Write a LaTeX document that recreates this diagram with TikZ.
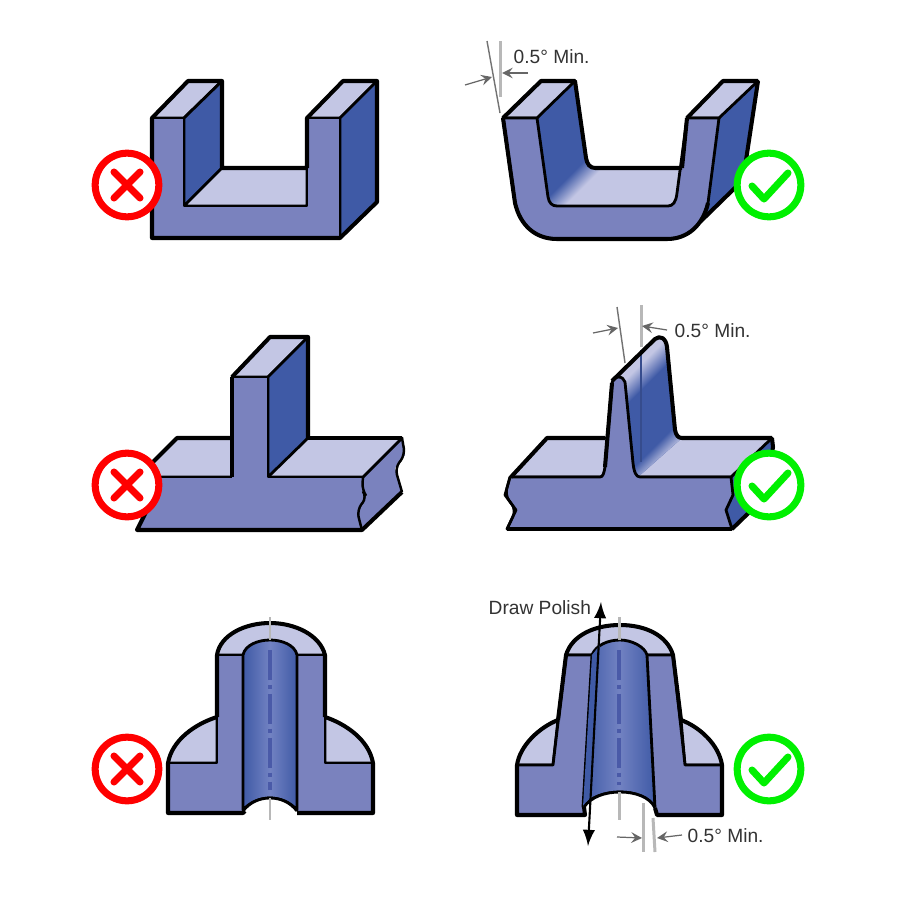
\documentclass[tikz,border=0pt]{standalone}
\usepackage{fontspec}
\setmainfont{Liberation Sans}
\usetikzlibrary{arrows}
\definecolor{blockmid}{HTML}{7A82BE}
\definecolor{blockdark}{HTML}{3F5AA6}
\definecolor{blocklight}{HTML}{C3C6E4}
\definecolor{boreglow}{HTML}{7282C2}
\definecolor{boredash}{HTML}{4A5AA8}
\definecolor{dimgray}{HTML}{B8B8B8}
\definecolor{dimtext}{HTML}{333333}
\definecolor{badred}{HTML}{FF0000}
\definecolor{goodgreen}{HTML}{00F000}
\begin{document}
\begin{tikzpicture}[
x=0.01cm,y=-0.01cm,
font=\fontsize{5.45}{6.5}\selectfont,
outerline/.style={line width=1.15pt,line join=round},
innerline/.style={line width=0.8pt,line join=round},
breakline/.style={line width=0.7pt,rounded corners=2pt},
frontface/.style={fill=blockmid,innerline},
topface/.style={fill=blocklight,innerline},
wallface/.style={fill=blockdark,innerline},
boreface/.style={left color=blockdark,right color=blockdark,middle color=boreglow,innerline},
dimline/.style={dimgray,line width=0.85pt},
dimthin/.style={black!55,line width=0.4pt},
dimarrow/.style={->,>=stealth,black!60,line width=0.35pt},
dimlabel/.style={text=dimtext,inner sep=0pt},
axisline/.style={dimgray,line width=0.85pt},
axisdash/.style={boredash,line width=1pt,dash pattern=on 8.5pt off 1.4pt on 1.2pt off 1.4pt},
polish/.style={<->,>=latex,line width=0.6pt},
ring/.style={circle,draw=#1,line width=2pt,minimum size=18.1pt,inner sep=0pt},
signline/.style={line width=2pt,line cap=round,line join=round}
]
\fill[white] (0,0) rectangle (900,900);
\useasboundingbox (0,0) rectangle (900,900);

% square channel
\filldraw[topface] (152,118) -- (188,81) -- (222,81) -- (184,118) -- cycle;
\filldraw[topface] (307,118) -- (343,81) -- (377,81) -- (340,118) -- cycle;
\filldraw[wallface] (184,118) -- (222,81) -- (222,168) -- (184,206) -- cycle;
\filldraw[topface] (184,206) -- (222,168) -- (307,168) -- (307,206) -- cycle;
\filldraw[wallface] (340,118) -- (377,81) -- (377,202) -- (340,238) -- cycle;
\filldraw[frontface] (152,118) -- (184,118) -- (184,206) -- (307,206) -- (307,118) -- (340,118) -- (340,238) -- (152,238) -- cycle;
\draw[outerline] (307,168) -- (222,168) -- (222,81) -- (188,81) -- (152,118) -- (152,238) -- (340,238) -- (377,202) -- (377,81) -- (343,81) -- (307,118) -- (307,168);

% drafted channel
\fill[blockdark] (719,118) -- (758,81) -- (743,180) -- (700,222) -- cycle;
\draw[outerline] (758,81) -- (743,180) -- (700,222);
\fill[blocklight] (537,118) -- (575,81) -- (586,158) .. controls (587,164) and (590,168) .. (595,168) -- (682,168) -- (677,193) .. controls (676,202) and (673,206) .. (668,206) -- (557,206) .. controls (552,206) and (549,203) .. (548,197) -- cycle;
\begin{scope}
\clip (537,118) -- (575,81) -- (586,158) .. controls (587,164) and (590,168) .. (595,168) -- (682,168) -- (677,193) .. controls (676,202) and (673,206) .. (668,206) -- (557,206) .. controls (552,206) and (549,203) .. (548,197) -- cycle;
\begin{scope}[transform canvas={rotate around={-45:(572,184)}}]
\fill[blockdark] (400,0) rectangle (565,350);
\shade[left color=blockdark,right color=blocklight] (564,0) rectangle (582,350);
\end{scope}
\end{scope}
\filldraw[topface] (503,118) -- (541,81) -- (575,81) -- (537,118) -- cycle;
\filldraw[topface] (687,118) -- (723,81) -- (758,81) -- (719,118) -- cycle;
\filldraw[frontface] (503,118) -- (537,118) -- (548,197) .. controls (549,203) and (552,206) .. (557,206) -- (668,206) .. controls (673,206) and (676,202) .. (677,193) -- (687,118) -- (719,118) -- (708,203) .. controls (703,225) and (688,239) .. (667,239) -- (557,239) .. controls (535,239) and (520,225) .. (515,203) -- cycle;
\draw[outerline] (503,118) -- (541,81) -- (575,81) -- (586,158) .. controls (587,164) and (590,168) .. (595,168) -- (682,168);
\draw[outerline] (503,118) -- (515,203) .. controls (520,225) and (535,239) .. (557,239) -- (667,239) .. controls (688,239) and (703,225) .. (708,203);
\draw[outerline] (687,118) -- (723,81) -- (758,81);
\draw[outerline] (687,118) -- (682,168);
\draw[dimthin] (487,41) -- (500,113);
\draw[dimline] (500,41) -- (500,97);
\draw[dimarrow] (465,85) -- (492,77);
\draw[dimarrow] (528,73) -- (502,73);
\node[dimlabel,anchor=west] (draftone) at (513,57) {0.5° Min.};

% square rib
\fill[blockmid] (345,477) -- (363,477) -- (402,438) -- (405,455) -- (395,468) -- (402,492) -- (362,530) -- (345,530) -- cycle;
\filldraw[topface] (138,477) -- (177,438) -- (402,438) -- (363,477) -- cycle;
\filldraw[topface] (232,377) -- (270,337) -- (308,337) -- (268,377) -- cycle;
\filldraw[wallface] (268,377) -- (308,337) -- (308,438) -- (268,477) -- cycle;
\fill[blockmid] (232,377) -- (268,377) -- (268,477) -- (363,477) -- (362,490) -- (367,497) -- (357,510) -- (360,523) -- (362,530) -- (137,530) -- (158,488) -- (150,477) -- (232,477) -- cycle;
\draw[innerline] (268,377) -- (268,477) -- (363,477);
\draw[innerline] (232,377) -- (268,377) (232,477) -- (150,477);
\draw[breakline] (363,477) -- (362,490) -- (367,497) -- (357,510) -- (360,523) -- (362,530);
\draw[outerline] (232,377) -- (270,337) -- (308,337) -- (308,438);
\draw[outerline] (232,438) -- (177,438) -- (138,477);
\draw[outerline] (232,377) -- (232,477);
\draw[outerline] (308,438) -- (402,438);
\draw[breakline] (402,438) -- (405,455) -- (395,468) -- (402,492);
\draw[outerline] (402,492) -- (362,530) -- (137,530) -- (158,488);

% drafted rib
\fill[blockdark] (768,441) -- (772,438) -- (773,447) -- (765,497) -- (732,529) -- (726,510) -- (731,477) -- cycle;
\draw[outerline] (772,438) -- (773,447) -- (765,497) -- (732,529);
\filldraw[topface] (511,477) -- (547,438) -- (772,438) -- (731,477) -- cycle;
\fill[blockdark] (612,383) -- (618,377) -- (655,338) .. controls (660,335) and (666,338) .. (667,347) -- (675,430) .. controls (676,435) and (678,438) .. (682,438) -- (638,477) -- (633,463) -- cycle;
\begin{scope}
\clip (612,383) -- (618,377) -- (655,338) .. controls (660,335) and (666,338) .. (667,347) -- (675,430) .. controls (676,435) and (678,438) .. (682,438) -- (638,477) -- (633,463) -- cycle;
\begin{scope}[transform canvas={rotate around={-45:(644,359)}}]
\fill[blocklight] (500,200) rectangle (646,500);
\shade[left color=blocklight,right color=blockdark] (645,200) rectangle (664,500);
\end{scope}
\begin{scope}[transform canvas={rotate around={-45:(659,457)}}]
\fill[blocklight] (663,300) rectangle (800,600);
\shade[left color=blockdark,right color=blocklight] (648,300) rectangle (664,600);
\end{scope}
\end{scope}
\draw[blockdark!85!black,line width=0.3pt] (641,350) -- (641,462);
\filldraw[frontface] (510,477) -- (600,477) .. controls (603,477) and (604,473) .. (605,467) -- (612,383) .. controls (613,378) and (616,377) .. (618,377) .. controls (622,377) and (624,379) .. (625,382) -- (633,463) .. controls (634,472) and (636,477) .. (640,477) -- (731,477) -- (733,495) -- (726,510) -- (732,529) -- (507,529) -- (516,510) -- (505,495) -- cycle;
\draw[outerline] (511,477) -- (547,438) -- (605,438);
\draw[outerline] (612,383) -- (605,467);
\draw[outerline] (612,381) -- (655,339) .. controls (660,335) and (666,338) .. (667,347) -- (675,430) .. controls (676,435) and (678,438) .. (682,438) -- (772,438);
\draw[breakline] (510,477) -- (505,495) -- (516,510) -- (507,529);
\draw[outerline] (507,529) -- (732,529);
\draw[dimthin] (617,307) -- (625,363);
\draw[dimline] (641,305) -- (641,347);
\draw[dimarrow] (593,333) -- (618,328);
\draw[dimarrow] (667,330) -- (642,326);
\node[dimlabel,anchor=west] (drafttwo) at (674,331) {0.5° Min.};

% straight boss
\filldraw[topface] (217,655) .. controls (220,635) and (245,623) .. (270,623) .. controls (295,623) and (320,635) .. (325,655) -- cycle;
\filldraw[topface] (168,763) .. controls (172,740) and (195,724) .. (217,717) -- (217,763) -- cycle;
\filldraw[topface] (373,763) .. controls (369,740) and (346,724) .. (325,717) -- (325,763) -- cycle;
\filldraw[frontface] (168,763) -- (217,763) -- (217,655) -- (325,655) -- (325,763) -- (373,763) -- (373,813) -- (168,813) -- cycle;
\draw[boreface] (243,810) .. controls (250,802) and (260,798) .. (270,798) .. controls (280,798) and (290,802) .. (297,810) -- (297,655) .. controls (295,645) and (282,640) .. (270,640) .. controls (258,640) and (245,645) .. (243,655) -- cycle;
\fill[white] (243,811) .. controls (250,802) and (260,798) .. (270,798) .. controls (280,798) and (290,802) .. (297,811) -- (297,815) -- (243,815) -- cycle;
\draw[innerline] (243,811) .. controls (250,802) and (260,798) .. (270,798) .. controls (280,798) and (290,802) .. (297,811);
\draw[outerline] (217,717) -- (217,655) .. controls (220,635) and (245,623) .. (270,623) .. controls (295,623) and (320,635) .. (325,655) -- (325,717);
\draw[outerline] (217,717) .. controls (195,724) and (172,740) .. (168,763) -- (168,813) -- (243,813) -- (245,811);
\draw[outerline] (325,717) .. controls (346,724) and (369,740) .. (373,763) -- (373,813) -- (297,813);
\draw[axisline] (270,617) -- (270,640);
\draw[axisline] (270,798) -- (270,820);
\draw[axisdash] (270,650) -- (270,790);

% drafted boss
\filldraw[topface] (566,655) .. controls (572,635) and (595,625) .. (620,625) .. controls (645,625) and (667,635) .. (673,655) -- cycle;
\filldraw[topface] (517,765) .. controls (520,745) and (540,727) .. (558,720) -- (553,765) -- cycle;
\filldraw[topface] (722,765) .. controls (719,745) and (700,727) .. (681,720) -- (685,765) -- cycle;
\filldraw[frontface] (517,765) -- (553,765) -- (566,655) -- (673,655) -- (685,765) -- (722,765) -- (722,815) -- (517,815) -- cycle;
\draw[boreface] (583,807) .. controls (590,797) and (605,792) .. (620,792) .. controls (635,792) and (650,797) .. (655,808) -- (647,655) .. controls (645,647) and (632,640) .. (620,640) .. controls (608,640) and (596,645) .. (592,655) -- cycle;
\fill[blockdark] (592,655) -- (600,645) -- (590,798) -- (583,807) -- cycle;
\fill[white] (585,817) -- (585,806) .. controls (591,797) and (605,792) .. (620,792) .. controls (635,792) and (650,797) .. (656,808) -- (657,817) -- cycle;
\draw[innerline] (584,807) .. controls (591,797) and (605,792) .. (620,792) .. controls (635,792) and (650,797) .. (655,808);
\draw[outerline] (558,720) -- (566,655) .. controls (572,635) and (595,625) .. (620,625) .. controls (645,625) and (667,635) .. (673,655) -- (681,720);
\draw[outerline] (558,720) .. controls (540,727) and (520,745) .. (517,765) -- (517,815) -- (585,815) -- (584,807);
\draw[outerline] (681,720) .. controls (700,727) and (719,745) .. (722,765) -- (722,815) -- (657,815) -- (655,808);
\draw[axisline] (619,617) -- (619,640);
\draw[axisline] (619,792) -- (619,820);
\draw[axisdash] (619,650) -- (619,785);
\draw[polish] (601,602) -- (588,846);
\draw[dimline] (643,803) -- (643,852);
\draw[dimline] (653,818) -- (655,852);
\draw[dimarrow] (617,837) -- (642,838);
\draw[dimarrow] (682,835) -- (657,838);
\node[dimlabel,anchor=west] (polishlabel) at (488,608) {Draw Polish};
\node[dimlabel,anchor=west] (draftthree) at (687,836) {0.5° Min.};

% badges
\foreach \rowname/\rowy in {one/185,two/485,three/769}{
\node[ring=badred,fill=white] (bad\rowname) at (127,\rowy) {};
\draw[signline,badred] (114,\rowy-13) -- (140,\rowy+13);
\draw[signline,badred] (140,\rowy-13) -- (114,\rowy+13);
\node[ring=goodgreen,fill=white] (good\rowname) at (769,\rowy) {};
\draw[signline,goodgreen] (752,\rowy+1) -- (764,\rowy+14) -- (788,\rowy-12);
}
\end{tikzpicture}
\end{document}
